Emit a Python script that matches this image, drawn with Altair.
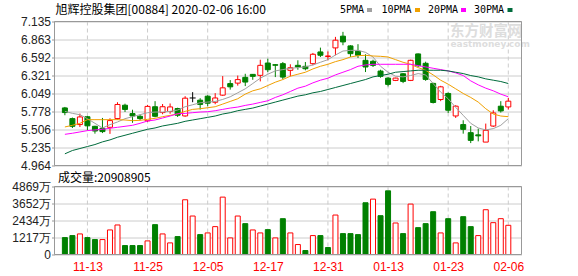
import altair as alt
import pandas as pd

# ---------------- data ----------------
dates = [
    "2019-11-08", "2019-11-11", "2019-11-12", "2019-11-13", "2019-11-14", "2019-11-15",
    "2019-11-18", "2019-11-19", "2019-11-20", "2019-11-21", "2019-11-22", "2019-11-25",
    "2019-11-26", "2019-11-27", "2019-11-28", "2019-11-29", "2019-12-02", "2019-12-03",
    "2019-12-04", "2019-12-05", "2019-12-06", "2019-12-09", "2019-12-10", "2019-12-11",
    "2019-12-12", "2019-12-13", "2019-12-16", "2019-12-17", "2019-12-18", "2019-12-19",
    "2019-12-20", "2019-12-23", "2019-12-24", "2019-12-27", "2019-12-30", "2019-12-31",
    "2020-01-02", "2020-01-03", "2020-01-06", "2020-01-07", "2020-01-08", "2020-01-09",
    "2020-01-10", "2020-01-13", "2020-01-14", "2020-01-15", "2020-01-16", "2020-01-17",
    "2020-01-20", "2020-01-21", "2020-01-22", "2020-01-23", "2020-01-24", "2020-01-29",
    "2020-01-30", "2020-01-31", "2020-02-03", "2020-02-04", "2020-02-05", "2020-02-06",
]
opens = [5.832, 5.671, 5.581, 5.699, 5.555, 5.525, 5.540, 5.671, 5.873, 5.747,
         5.706, 5.638, 5.850, 5.762, 5.778, 5.823, 5.711, 5.982, 5.949, 6.009,
         5.918, 6.025, 6.199, 6.206, 6.293, 6.338, 6.323, 6.509, 6.484, 6.499,
         6.399, 6.474, 6.459, 6.499, 6.676, 6.608, 6.737, 6.914, 6.767, 6.687,
         6.550, 6.535, 6.388, 6.282, 6.247, 6.347, 6.247, 6.646, 6.505, 6.202,
         5.959, 6.050, 5.711, 5.581, 5.459, 5.426, 5.317, 5.559, 5.858, 5.847]
highs = [5.847, 5.687, 5.747, 5.711, 5.562, 5.681, 5.676, 5.918, 5.896, 5.805,
         5.732, 5.878, 5.934, 5.891, 5.899, 5.835, 6.009, 6.070, 5.979, 6.024,
         6.055, 6.312, 6.252, 6.320, 6.347, 6.343, 6.559, 6.574, 6.494, 6.524,
         6.490, 6.550, 6.524, 6.661, 6.741, 6.684, 6.903, 6.979, 6.777, 6.793,
         6.641, 6.559, 6.408, 6.297, 6.287, 6.358, 6.559, 6.653, 6.529, 6.211,
         6.165, 6.065, 5.873, 5.646, 5.559, 5.520, 5.596, 5.797, 5.934, 5.984]
lows = [5.722, 5.529, 5.544, 5.494, 5.444, 5.453, 5.441, 5.656, 5.771, 5.608,
        5.646, 5.620, 5.691, 5.737, 5.744, 5.696, 5.699, 5.918, 5.808, 5.858,
        5.888, 6.014, 6.108, 6.168, 6.161, 6.256, 6.232, 6.373, 6.297, 6.262,
        6.308, 6.408, 6.399, 6.474, 6.600, 6.550, 6.626, 6.777, 6.600, 6.585,
        6.373, 6.449, 6.287, 6.156, 6.237, 6.206, 6.237, 6.449, 6.241, 5.899,
        5.934, 5.756, 5.681, 5.444, 5.302, 5.328, 5.317, 5.544, 5.762, 5.808]
closes = [5.762, 5.555, 5.696, 5.562, 5.484, 5.475, 5.641, 5.884, 5.809, 5.711,
          5.671, 5.855, 5.706, 5.850, 5.847, 5.722, 5.979, 5.982, 5.885, 5.903,
          5.982, 6.135, 6.150, 6.259, 6.222, 6.308, 6.474, 6.408, 6.475, 6.297,
          6.438, 6.449, 6.423, 6.641, 6.626, 6.615, 6.853, 6.827, 6.650, 6.626,
          6.449, 6.474, 6.308, 6.187, 6.282, 6.232, 6.550, 6.468, 6.262, 5.914,
          6.150, 5.797, 5.858, 5.509, 5.343, 5.411, 5.494, 5.756, 5.787, 5.934]
volumes = [12110000, 13540000, 14730000, 12110000, 10690000, 10690000, 17580000, 21140000, 6410000, 6410000,
           6410000, 9740000, 21380000, 14730000, 8310000, 12830000, 39190000, 27550000, 14250000, 15440000,
           19950000, 41090000, 11880000, 27550000, 22090000, 17580000, 15440000, 17810000, 11880000, 25650000,
           15440000, 7130000, 2850000, 13540000, 13540000, 4990000, 28260000, 14960000, 14960000, 14250000,
           37050000, 39660000, 27790000, 45600000, 22560000, 14960000, 36100000, 19240000, 22090000, 30640000,
           15440000, 25650000, 8310000, 27080000, 19950000, 13540000, 32060000, 22800000, 25650000, 20908905]
vol_dir = ["down", "down", "up", "down", "down", "up", "up", "up", "down", "down",
           "down", "up", "down", "up", "up", "down", "up", "up", "down", "up",
           "up", "up", "up", "up", "down", "up", "up", "down", "up", "down",
           "up", "up", "down", "up", "down", "down", "up", "down", "down", "down",
           "down", "up", "down", "down", "up", "down", "up", "down", "down", "down",
           "up", "down", "up", "down", "down", "up", "up", "up", "up", "up"]
ma5 = [5.78, 5.75, 5.73, 5.67, 5.60, 5.53, 5.58, 5.62, 5.67, 5.70,
       5.73, 5.76, 5.77, 5.77, 5.78, 5.80, 5.85, 5.88, 5.91, 5.92,
       5.93, 5.96, 6.00, 6.06, 6.12, 6.20, 6.28, 6.34, 6.39, 6.41,
       6.43, 6.44, 6.45, 6.48, 6.52, 6.56, 6.63, 6.69, 6.70, 6.70,
       6.67, 6.60, 6.46, 6.37, 6.31, 6.30, 6.32, 6.35, 6.33, 6.20,
       6.07, 5.97, 5.84, 5.72, 5.60, 5.53, 5.50, 5.52, 5.57, 5.67]
ma10 = [5.545, 5.57, 5.60, 5.655, 5.655, 5.655, 5.655, 5.655, 5.65, 5.64,
        5.645, 5.66, 5.675, 5.70, 5.72, 5.74, 5.78, 5.81, 5.82, 5.835,
        5.85, 5.89, 5.93, 5.97, 6.04, 6.09, 6.12, 6.17, 6.22, 6.26,
        6.31, 6.34, 6.37, 6.42, 6.46, 6.49, 6.53, 6.56, 6.60, 6.62,
        6.625, 6.615, 6.61, 6.60, 6.56, 6.52, 6.49, 6.44, 6.40, 6.33,
        6.25, 6.19, 6.12, 6.05, 5.99, 5.92, 5.82, 5.74, 5.71, 5.70]
ma20 = [5.434, 5.45, 5.47, 5.49, 5.50, 5.51, 5.525, 5.54, 5.555, 5.57,
        5.60, 5.635, 5.65, 5.68, 5.71, 5.745, 5.75, 5.76, 5.77, 5.775,
        5.79, 5.81, 5.83, 5.845, 5.87, 5.89, 5.915, 5.94, 5.99, 6.03,
        6.08, 6.13, 6.16, 6.21, 6.25, 6.28, 6.33, 6.37, 6.41, 6.46,
        6.48, 6.49, 6.49, 6.49, 6.49, 6.49, 6.49, 6.47, 6.45, 6.43,
        6.41, 6.39, 6.36, 6.32, 6.24, 6.18, 6.13, 6.09, 6.04, 6.00]
ma30 = [5.14, 5.19, 5.22, 5.25, 5.28, 5.32, 5.35, 5.39, 5.42, 5.45,
        5.48, 5.51, 5.53, 5.56, 5.58, 5.60, 5.63, 5.65, 5.67, 5.69,
        5.71, 5.74, 5.76, 5.79, 5.81, 5.83, 5.86, 5.89, 5.92, 5.95,
        5.98, 6.01, 6.03, 6.06, 6.08, 6.11, 6.14, 6.17, 6.20, 6.23,
        6.26, 6.30, 6.32, 6.34, 6.37, 6.38, 6.39, 6.40, 6.40, 6.40,
        6.40, 6.39, 6.37, 6.35, 6.32, 6.30, 6.27, 6.25, 6.23, 6.20]
ma_names = ["5PMA", "10PMA", "20PMA", "30PMA"]
price_ticks = [4.964, 5.235, 5.506, 5.778, 6.049, 6.321, 6.592, 6.863, 7.135]
volume_ticks = [0, 12170000, 24340000, 36520000, 48690000]
x_label_dates = ["2019-11-13", "2019-11-25", "2019-12-05", "2019-12-17",
                 "2019-12-31", "2020-01-13", "2020-01-23", "2020-02-06"]
title_text = "旭辉控股集团[00884] 2020-02-06 16:00"

# ---------------- styling / layout ----------------
W = 467
H_TOP = 144
VOL_TOP = 165
VOL_BOT = 233
RED = "#ff0000"
GREEN = "#008000"
MA_COLORS = ["#a0a0a0", "#f0a000", "#ff00ff", "#006b3c"]
GRID = "#cccccc"
FRAME = "#999999"
LFONT = "Liberation Sans"
CFONT = "Noto Sans CJK SC"

n = len(dates)
df = pd.DataFrame({"idx": list(range(n)), "open": opens, "high": highs, "low": lows,
                   "close": closes, "vol": volumes, "vdir": vol_dir})
df["dir"] = ["up" if c > o else ("down" if c < o else "flat") for o, c in zip(opens, closes)]

label_idx = [dates.index(d) for d in x_label_dates]
label_txt = [d[5:] for d in x_label_dates]
lab_df = pd.DataFrame({"idx": label_idx})

xscale = alt.Scale(domain=[-0.716, 60.09], nice=False, zero=False)
label_expr = ("[" + ",".join("'%s'" % t for t in label_txt) + "][indexof(["
              + ",".join(str(i) for i in label_idx) + "], datum.value)]")
xaxis = alt.Axis(values=label_idx, labelExpr=label_expr, grid=False, ticks=False, domain=False,
                 labelColor=RED, labelFontSize=12, labelFont=LFONT, labelPadding=7, title=None)


def X(field="idx"):
    return alt.X(field + ":Q", scale=xscale, axis=xaxis)


yscale_top = alt.Scale(domain=[price_ticks[0], price_ticks[-1]], range=[H_TOP, 0], nice=False, zero=False)
yaxis_top = alt.Axis(values=price_ticks, format=".3f", orient="left", grid=True, gridColor=GRID,
                     domain=False, ticks=True, tickSize=3, tickColor=FRAME, labelFontSize=12,
                     labelFont=LFONT, labelColor="#222222", labelPadding=1, title=None)


def YT(field):
    return alt.Y(field + ":Q", scale=yscale_top, axis=yaxis_top)


yscale_vol = alt.Scale(domain=[0, volume_ticks[-1]], range=[VOL_BOT, VOL_TOP], nice=False, zero=True)
yaxis_vol = alt.Axis(values=volume_ticks, orient="left", grid=True, gridColor=GRID, domain=False,
                     ticks=True, tickSize=3, tickColor=FRAME, labelFontSize=12, labelFont=LFONT,
                     labelColor="#222222", labelPadding=1, title=None,
                     labelExpr="datum.value == 0 ? '0' : round(datum.value / 10000) + '万'")

base = alt.Chart(df)

# ---------- price panel ----------
wick_layers = []
for d, c in [("up", RED), ("down", GREEN), ("flat", "#000000")]:
    wick_layers.append(
        base.transform_filter("datum.dir == '%s'" % d)
        .mark_rule(color=c, strokeWidth=1)
        .encode(x=X(), y=YT("low"), y2="high:Q")
    )
body_up = (base.transform_filter("datum.dir == 'up'")
           .mark_bar(size=5, fill="#ffffff", stroke=RED, strokeWidth=1)
           .encode(x=X(), y=YT("open"), y2="close:Q"))
body_down = (base.transform_filter("datum.dir == 'down'")
             .mark_bar(size=5, fill=GREEN, stroke=GREEN, strokeWidth=1)
             .encode(x=X(), y=YT("open"), y2="close:Q"))
doji = (base.transform_filter("datum.dir == 'flat'")
        .transform_calculate(x0="datum.idx - 0.4", x1="datum.idx + 0.4")
        .mark_rule(color="#000000", strokeWidth=1)
        .encode(x=X("x0"), x2="x1:Q", y=YT("close")))

ma_layers = []
for name, vals, col in zip(ma_names, [ma5, ma10, ma20, ma30], MA_COLORS):
    mdf = pd.DataFrame({"idx": list(range(n)), "value": vals})
    ma_layers.append(alt.Chart(mdf).mark_line(color=col, strokeWidth=1)
                     .encode(x=X(), y=YT("value")))

price_panel = alt.layer(*wick_layers, body_up, body_down, doji, *ma_layers)

# ---------- volume panel ----------
vol_up = (base.transform_filter("datum.vdir == 'up'")
          .mark_bar(size=5, fill="#ffffff", stroke=RED, strokeWidth=1)
          .encode(x=X(), y=alt.Y("vol:Q", scale=yscale_vol, axis=yaxis_vol)))
vol_down = (base.transform_filter("datum.vdir == 'down'")
            .mark_bar(size=5, fill=GREEN, stroke=GREEN, strokeWidth=1)
            .encode(x=X(), y=alt.Y("vol:Q", scale=yscale_vol, axis=yaxis_vol)))
volume_panel = alt.layer(vol_up, vol_down)

# ---------- decorations ----------
one = alt.Chart(pd.DataFrame({"d": [0]}))
vgrid_top = alt.Chart(lab_df).mark_rule(color=GRID, strokeDash=[4, 3], strokeWidth=1).encode(
    x=X(), y=alt.value(0), y2=alt.value(H_TOP))
vgrid_vol = alt.Chart(lab_df).mark_rule(color=GRID, strokeDash=[4, 3], strokeWidth=1).encode(
    x=X(), y=alt.value(VOL_TOP), y2=alt.value(VOL_BOT))
watermark1 = one.mark_text(text="东方财富网", align="left", baseline="middle", font=CFONT,
                           fontSize=14.5, fontWeight="bold", color="#dddddd").encode(
    x=alt.value(395.5), y=alt.value(10))
watermark2 = one.mark_text(text="eastmoney.com", align="left", baseline="middle", font="DejaVu Sans",
                           fontSize=9, fontWeight="bold", color="#dddddd").encode(
    x=alt.value(396), y=alt.value(22))
frame_top = one.mark_rect(fillOpacity=0, stroke=FRAME, strokeWidth=1).encode(
    x=alt.value(0), x2=alt.value(W), y=alt.value(0), y2=alt.value(H_TOP))
frame_vol = one.mark_rect(fillOpacity=0, stroke=FRAME, strokeWidth=1).encode(
    x=alt.value(0), x2=alt.value(W), y=alt.value(VOL_TOP), y2=alt.value(VOL_BOT))
header = one.mark_text(text=title_text, align="left", baseline="middle", font=CFONT,
                       fontSize=12, color="#000000").encode(x=alt.value(1), y=alt.value(-12))
vol_title = one.mark_text(text="成交量:%d" % volumes[-1], align="left", baseline="middle",
                          font=CFONT, fontSize=12, color="#000000").encode(
    x=alt.value(3.5), y=alt.value(VOL_TOP - 9))

legend_layers = []
legend_text_x = [285.5, 327, 373.5, 419.5]
legend_box_x = [312.5, 360.5, 406.5, 453]
for name, col, tx, bx in zip(ma_names, MA_COLORS, legend_text_x, legend_box_x):
    legend_layers.append(one.mark_text(text=name, align="left", baseline="middle",
                                       font="DejaVu Sans Mono", fontSize=10, color="#000000")
                         .encode(x=alt.value(tx), y=alt.value(-11.5)))
    legend_layers.append(one.mark_rect(color=col).encode(
        x=alt.value(bx), x2=alt.value(bx + 5), y=alt.value(-13.5), y2=alt.value(-9.5)))

chart = alt.layer(
    vgrid_top, vgrid_vol, watermark1, watermark2,
    price_panel, volume_panel,
    frame_top, frame_vol, header, vol_title, *legend_layers
).resolve_scale(y="independent").properties(
    width=W, height=VOL_BOT,
    autosize=alt.AutoSizeParams(type="none"),
    padding={"left": 54.5, "top": 21.5, "right": 578 - 54.5 - W, "bottom": 276 - 21.5 - VOL_BOT},
    background="#ffffff",
).configure_view(stroke=None)

chart.save("out.html", embed_options={"renderer": "svg", "actions": False})
